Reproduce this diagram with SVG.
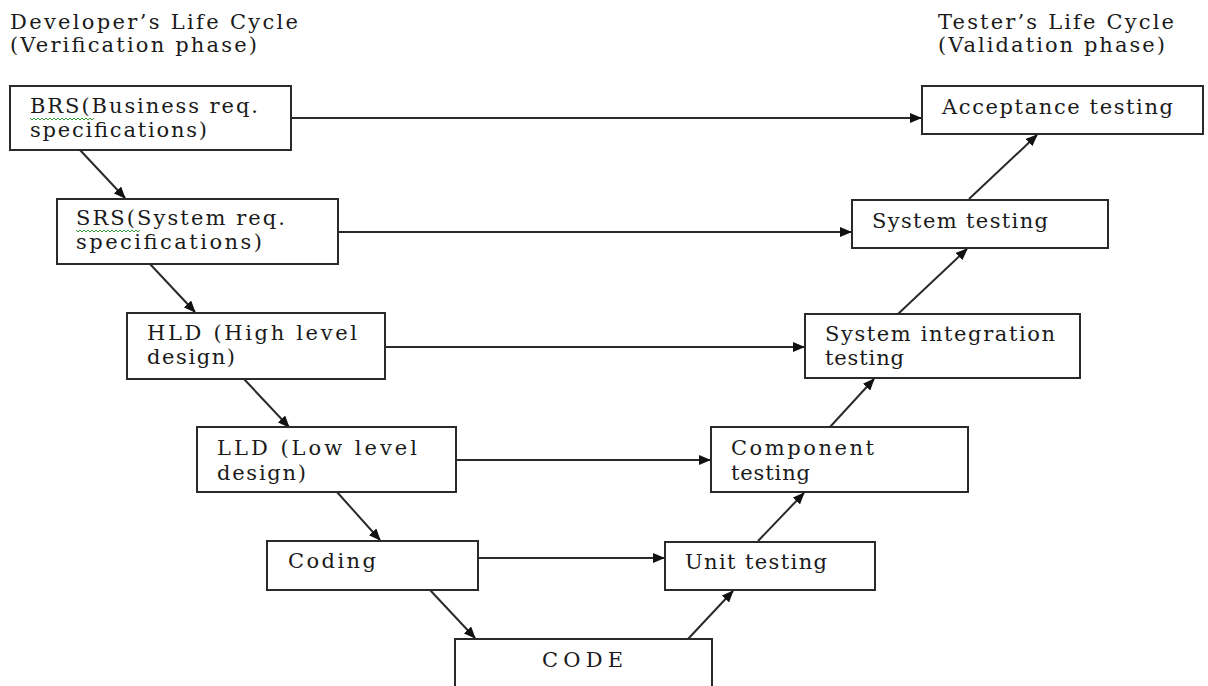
<svg xmlns="http://www.w3.org/2000/svg" width="1208" height="686" viewBox="0 0 1208 686">
  <style>
    .box { fill: #ffffff; stroke: #2a2a2a; stroke-width: 2; }
    .lbl { font-family: "DejaVu Serif", "Liberation Serif", serif; font-size: 21px; fill: #1a1a1a; }
    .link { stroke: #2a2a2a; stroke-width: 2; fill: none; marker-end: url(#head); }
    .squiggle { stroke: #3a9a3a; stroke-width: 1; fill: none; }
  </style>
  <defs>
    <marker id="head" viewBox="0 0 12 10" refX="11" refY="5" markerWidth="12" markerHeight="10" markerUnits="userSpaceOnUse" orient="auto">
      <path d="M0,0 L12,5 L0,10 z" fill="#111"/>
    </marker>
  </defs>
  <rect width="1208" height="686" fill="#ffffff"/>

  <!-- column headings -->
  <g id="dev-heading">
    <text class="lbl" x="10" y="29" textLength="288" lengthAdjust="spacing">Developer’s Life Cycle</text>
    <text class="lbl" x="10" y="52" textLength="247" lengthAdjust="spacing">(Verification phase)</text>
  </g>
  <g id="tester-heading">
    <text class="lbl" x="938" y="29" textLength="236" lengthAdjust="spacing">Tester’s Life Cycle</text>
    <text class="lbl" x="938" y="52" textLength="227" lengthAdjust="spacing">(Validation phase)</text>
  </g>

  <!-- connectors -->
  <g id="connectors">
    <!-- left leg going down -->
    <line class="link" x1="80" y1="150" x2="125" y2="198"/>
    <line class="link" x1="150" y1="264" x2="195" y2="312"/>
    <line class="link" x1="244" y1="379" x2="289" y2="427"/>
    <line class="link" x1="337" y1="492" x2="380" y2="540"/>
    <line class="link" x1="430" y1="590" x2="475" y2="638"/>
    <!-- right leg going up -->
    <line class="link" x1="688" y1="639" x2="733" y2="591"/>
    <line class="link" x1="758" y1="541" x2="804" y2="493"/>
    <line class="link" x1="830" y1="427" x2="874" y2="379"/>
    <line class="link" x1="898" y1="314" x2="967" y2="249"/>
    <line class="link" x1="969" y1="199" x2="1037" y2="135"/>
    <!-- horizontal links -->
    <line class="link" x1="292" y1="118" x2="921" y2="118"/>
    <line class="link" x1="338" y1="232" x2="851" y2="232"/>
    <line class="link" x1="385" y1="347" x2="804" y2="347"/>
    <line class="link" x1="456" y1="460" x2="710" y2="460"/>
    <line class="link" x1="478" y1="558" x2="664" y2="558"/>
  </g>

  <!-- verification side -->
  <g id="brs">
    <rect class="box" x="10" y="86" width="281" height="64"/>
    <text class="lbl" x="30" y="113" textLength="228" lengthAdjust="spacing">BRS(Business req.</text>
    <text class="lbl" x="30" y="137" textLength="177" lengthAdjust="spacing">specifications)</text>
    <path class="squiggle" d="M30,118 l2,2 l2,-2 l2,2 l2,-2 l2,2 l2,-2 l2,2 l2,-2 l2,2 l2,-2 l2,2 l2,-2 l2,2 l2,-2 l2,2 l2,-2 l2,2 l2,-2 l2,2 l2,-2 l2,2 l2,-2 l2,2 l2,-2 l2,2 l2,-2 l2,2 l2,-2 l2,2 l2,-2 l2,2 l2,-2"/>
  </g>
  <g id="srs">
    <rect class="box" x="57" y="199" width="281" height="65"/>
    <text class="lbl" x="76" y="225" textLength="209" lengthAdjust="spacing">SRS(System req.</text>
    <text class="lbl" x="76" y="249" textLength="186" lengthAdjust="spacing">specifications)</text>
    <path class="squiggle" d="M76,230 l2,2 l2,-2 l2,2 l2,-2 l2,2 l2,-2 l2,2 l2,-2 l2,2 l2,-2 l2,2 l2,-2 l2,2 l2,-2 l2,2 l2,-2 l2,2 l2,-2 l2,2 l2,-2 l2,2 l2,-2 l2,2 l2,-2 l2,2 l2,-2 l2,2 l2,-2 l2,2 l2,-2 l2,2 l2,-2"/>
  </g>
  <g id="hld">
    <rect class="box" x="127" y="313" width="258" height="66"/>
    <text class="lbl" x="147" y="340" textLength="210" lengthAdjust="spacing">HLD (High level</text>
    <text class="lbl" x="147" y="364" textLength="88" lengthAdjust="spacing">design)</text>
  </g>
  <g id="lld">
    <rect class="box" x="197" y="427" width="259" height="65"/>
    <text class="lbl" x="217" y="455" textLength="200" lengthAdjust="spacing">LLD (Low level</text>
    <text class="lbl" x="217" y="480" textLength="89" lengthAdjust="spacing">design)</text>
  </g>
  <g id="coding">
    <rect class="box" x="267" y="541" width="211" height="49"/>
    <text class="lbl" x="288" y="568" textLength="88" lengthAdjust="spacing">Coding</text>
  </g>
  <g id="code">
    <rect class="box" x="455" y="639" width="257" height="60"/>
    <text class="lbl" x="542" y="667" textLength="81" lengthAdjust="spacing">CODE</text>
  </g>

  <!-- validation side -->
  <g id="unit-testing">
    <rect class="box" x="665" y="542" width="210" height="48"/>
    <text class="lbl" x="685" y="569" textLength="142" lengthAdjust="spacing">Unit testing</text>
  </g>
  <g id="component-testing">
    <rect class="box" x="711" y="427" width="257" height="65"/>
    <text class="lbl" x="731" y="455" textLength="143" lengthAdjust="spacing">Component</text>
    <text class="lbl" x="731" y="480" textLength="79" lengthAdjust="spacing">testing</text>
  </g>
  <g id="system-integration-testing">
    <rect class="box" x="805" y="314" width="275" height="64"/>
    <text class="lbl" x="825" y="341" textLength="230" lengthAdjust="spacing">System integration</text>
    <text class="lbl" x="825" y="365" textLength="79" lengthAdjust="spacing">testing</text>
  </g>
  <g id="system-testing">
    <rect class="box" x="852" y="200" width="256" height="48"/>
    <text class="lbl" x="872" y="228" textLength="176" lengthAdjust="spacing">System testing</text>
  </g>
  <g id="acceptance-testing">
    <rect class="box" x="922" y="86" width="281" height="48"/>
    <text class="lbl" x="942" y="114" textLength="231" lengthAdjust="spacing">Acceptance testing</text>
  </g>
</svg>
